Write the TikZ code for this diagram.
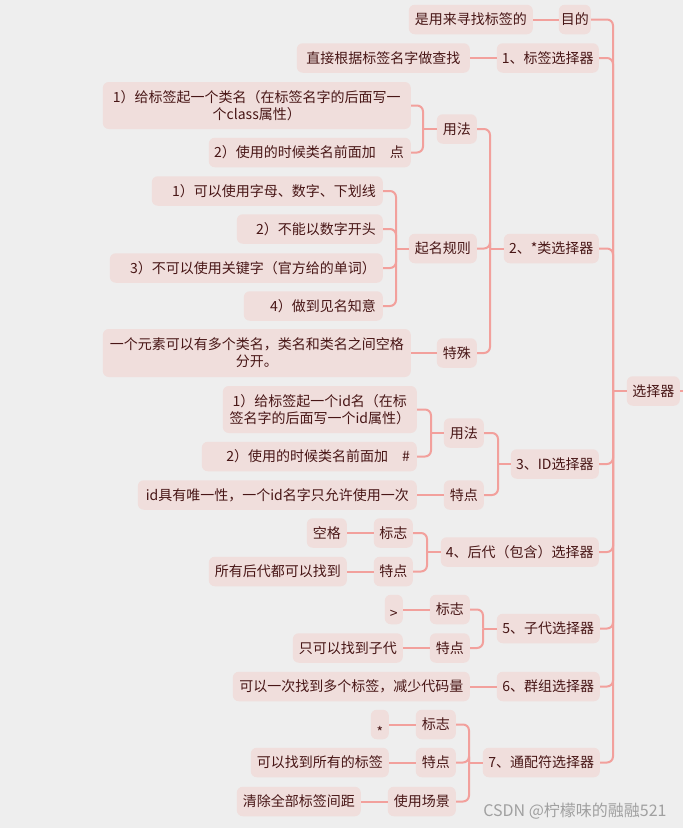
\documentclass[tikz,border=0pt]{standalone}
\usepackage{fontspec}
\newfontfamily\cjk{Noto Sans CJK SC}
\definecolor{bg}{RGB}{238,238,238}
\definecolor{nodefill}{RGB}{240,222,220}
\definecolor{txt}{RGB}{72,22,22}
\definecolor{linec}{RGB}{242,160,156}
\definecolor{wmc}{RGB}{160,160,160}
\tikzset{
  base/.style={fill=nodefill, rounded corners=6pt, text=txt, font=\cjk\fontsize{14}{17}\selectfont, anchor=east, inner ysep=0pt, minimum height=29.5pt},
  ndc/.style={base, inner xsep=2pt, text height=10.6pt, text depth=0pt},
  ndr/.style={base, inner xsep=7pt, text height=10.6pt, text depth=0pt},
  ndm/.style={base, inner xsep=4pt, align=center, minimum height=47pt},
  conn/.style={draw=linec, line width=2pt, rounded corners=6pt},
}
\begin{document}
\begin{tikzpicture}[x=1pt,y=-1pt]
\fill[bg] (0,0) rectangle (683,828);
\useasboundingbox (0,0) rectangle (683,828);

% root and main branches
\node[ndc, minimum width=53pt] (root) at (680,391) {选择器};
\node[ndc, minimum width=31pt] (mudi) at (591,19.5) {目的};
\node[ndc, minimum width=124pt] (mudiL) at (533,19.5) {是用来寻找标签的};
\node[ndc, minimum width=102pt] (s1) at (599,58) {1、标签选择器};
\node[ndc, minimum width=173pt] (s1L) at (470,58) {直接根据标签名字做查找};

\node[ndc, minimum width=95pt] (s2) at (599,248.5) {2、*类选择器};
\node[ndc, minimum width=40pt] (s2a) at (477,129) {用法};
\node[ndm, text width=300pt] (s2a1) at (411,105.5) {1）给标签起一个类名（在标签名字的后面写一\\个class属性）};
\node[ndr] (s2a2) at (411,152.5) {\makebox[188pt][r]{2）使用的时候类名前面加\kern1em 点}};
\node[ndc, minimum width=68pt] (s2b) at (477,248.5) {起名规则};
\node[ndr] (s2b1) at (383,191) {\makebox[217pt][r]{1）可以使用字母、数字、下划线}};
\node[ndr] (s2b2) at (383,229) {\makebox[132pt][r]{2）不能以数字开头}};
\node[ndr] (s2b3) at (383,268) {\makebox[259pt][r]{3）不可以使用关键字（官方给的单词）}};
\node[ndr] (s2b4) at (383,306) {\makebox[125pt][r]{4）做到见名知意}};
\node[ndc, minimum width=40pt] (s2c) at (477,353) {特殊};
\node[ndm, text width=300pt, minimum height=48pt] (s2c1) at (411,353) {一个元素可以有多个类名，类名和类名之间空格\\分开。};

\node[ndc, minimum width=88pt] (s3) at (599,464) {3、ID选择器};
\node[ndc, minimum width=40pt] (s3a) at (484,433) {用法};
\node[ndm, text width=186pt] (s3a1) at (417,409.5) {1）给标签起一个id名（在标\\签名字的后面写一个id属性）};
\node[ndr] (s3a2) at (417,456.5) {\makebox[201pt][r]{2）使用的时候类名前面加\kern1em\#}};
\node[ndc, minimum width=40pt] (s3b) at (484,495) {特点};
\node[ndc, minimum width=279pt] (s3b1) at (417,495) {id具有唯一性，一个id名字只允许使用一次};

\node[ndc, minimum width=158pt] (s4) at (599,552) {4、后代（包含）选择器};
\node[ndc, minimum width=39pt] (s4a) at (413,533) {标志};
\node[ndc, minimum width=40pt] (s4a1) at (347,533) {空格};
\node[ndc, minimum width=39pt] (s4b) at (413,571.5) {特点};
\node[ndc, minimum width=138pt] (s4b1) at (347,571.5) {所有后代都可以找到};

\node[ndc, minimum width=103pt] (s5) at (600,628.5) {5、子代选择器};
\node[ndc, minimum width=40pt] (s5a) at (470,609.5) {标志};
\node[ndc, minimum width=18pt] (s5a1) at (403,609.5) {\raisebox{-3.5pt}{>}};
\node[ndc, minimum width=40pt] (s5b) at (470,648) {特点};
\node[ndc, minimum width=110pt] (s5b1) at (403,648) {只可以找到子代};

\node[ndc, minimum width=103pt] (s6) at (600,686.5) {6、群组选择器};
\node[ndc, minimum width=237pt] (s6L) at (470,686.5) {可以一次找到多个标签，减少代码量};

\node[ndc, minimum width=117pt] (s7) at (600,762.5) {7、通配符选择器};
\node[ndc, minimum width=40pt] (s7a) at (456,724.5) {标志};
\node[ndc, minimum width=18pt] (s7a1) at (389,724.5) {\raisebox{-8pt}{*}};
\node[ndc, minimum width=40pt] (s7b) at (456,762.5) {特点};
\node[ndc, minimum width=138pt] (s7b1) at (389,762.5) {可以找到所有的标签};
\node[ndc, minimum width=68pt] (s7c) at (456,801.5) {使用场景};
\node[ndc, minimum width=124pt] (s7c1) at (361,801.5) {清除全部标签间距};

\node[font=\cjk\fontsize{16}{16}\selectfont, text=wmc] (wm) at (575,811) {CSDN @柠檬味的融融521};

% connectors
\coordinate (jr) at (613,391);
\foreach \n in {mudi,s1,s2,s3,s4,s5,s6,s7} \draw[conn] (\n.east) -| (jr);
\draw[conn] (jr) -- (root.west);
\coordinate (rootout) at (683,391);
\draw[conn] (root.east) -- (rootout);
\draw[conn] (mudiL.east) -- (mudi.west);
\draw[conn] (s1L.east) -- (s1.west);

\coordinate (j2) at (490,248.5);
\foreach \n in {s2a,s2b,s2c} \draw[conn] (\n.east) -| (j2);
\draw[conn] (j2) -- (s2.west);
\coordinate (j2a) at (423,129);
\foreach \n in {s2a1,s2a2} \draw[conn] (\n.east) -| (j2a);
\draw[conn] (j2a) -- (s2a.west);
\coordinate (j2b) at (396,248.5);
\foreach \n in {s2b1,s2b2,s2b3,s2b4} \draw[conn] (\n.east) -| (j2b);
\draw[conn] (j2b) -- (s2b.west);
\draw[conn] (s2c1.east) -- (s2c.west);

\coordinate (j3) at (498,464);
\foreach \n in {s3a,s3b} \draw[conn] (\n.east) -| (j3);
\draw[conn] (j3) -- (s3.west);
\coordinate (j3a) at (431,433);
\foreach \n in {s3a1,s3a2} \draw[conn] (\n.east) -| (j3a);
\draw[conn] (j3a) -- (s3a.west);
\draw[conn] (s3b1.east) -- (s3b.west);

\coordinate (j4) at (427,552);
\foreach \n in {s4a,s4b} \draw[conn] (\n.east) -| (j4);
\draw[conn] (j4) -- (s4.west);
\draw[conn] (s4a1.east) -- (s4a.west);
\draw[conn] (s4b1.east) -- (s4b.west);

\coordinate (j5) at (483,628.5);
\foreach \n in {s5a,s5b} \draw[conn] (\n.east) -| (j5);
\draw[conn] (j5) -- (s5.west);
\draw[conn] (s5a1.east) -- (s5a.west);
\draw[conn] (s5b1.east) -- (s5b.west);

\draw[conn] (s6L.east) -- (s6.west);

\coordinate (j7) at (469,762.5);
\foreach \n in {s7a,s7b,s7c} \draw[conn] (\n.east) -| (j7);
\draw[conn] (j7) -- (s7.west);
\draw[conn] (s7a1.east) -- (s7a.west);
\draw[conn] (s7b1.east) -- (s7b.west);
\draw[conn] (s7c1.east) -- (s7c.west);
\end{tikzpicture}
\end{document}
